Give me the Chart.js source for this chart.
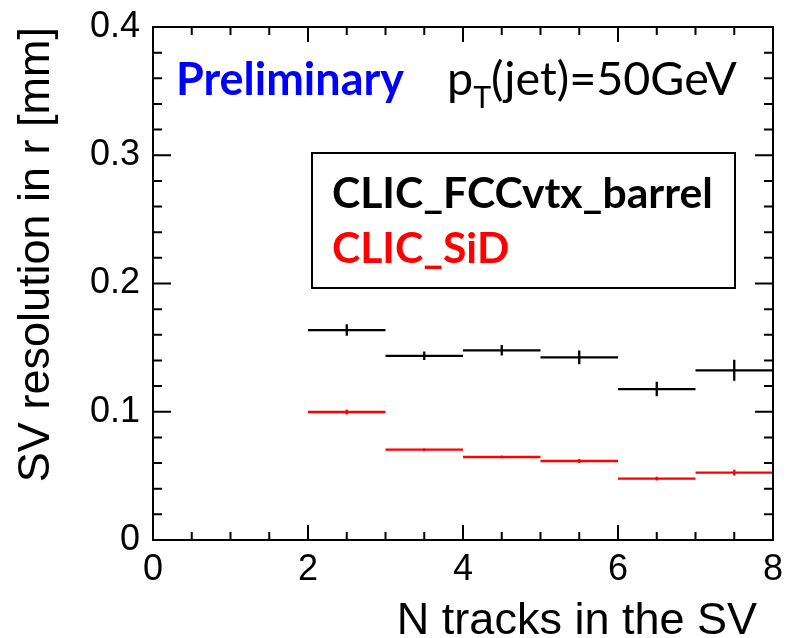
<!DOCTYPE html>
<html>
<head>
<meta charset="utf-8">
<script src="https://cdn.jsdelivr.net/npm/chart.js@4.4.1/dist/chart.umd.min.js"></script>
<style>
  html, body { margin: 0; padding: 0; background: #fff; }
  #wrap { width: 786px; height: 638px; }
</style>
</head>
<body>
<div id="wrap"><canvas id="svChart" width="786" height="638"></canvas></div>
<script>
// bin edges along "N tracks in the SV"
const binEdges = [2, 3, 4, 5, 6, 7, 8];

// SV resolution in r [mm] per bin, with errors
const fccRes = [0.1637, 0.1436, 0.1479, 0.1424, 0.1177, 0.1323];
const fccErr = [0.0045, 0.0033, 0.0041, 0.0053, 0.0056, 0.0082];
const sidRes = [0.0998, 0.0704, 0.0647, 0.0616, 0.0478, 0.0525];
const sidErr = [0.0020, 0.0012, 0.0012, 0.0015, 0.0015, 0.0023];

const xTicks = [0, 2, 4, 6, 8];
const yTicks = [0, 0.1, 0.2, 0.3, 0.4];

const AXIS_FONT = '"Liberation Sans", Arial, Helvetica, sans-serif';
const NOTE_FONT = 'Lato, "Open Sans", sans-serif';

// histogram style: horizontal bar over the bin + vertical error bar at the centre
function histPoints(vals, errs) {
    const pts = [];
    vals.forEach((v, i) => {
        const lo = binEdges[i], hi = binEdges[i + 1], mid = (lo + hi) / 2;
        pts.push({x: lo, y: v}, {x: hi, y: v}, {x: hi, y: null});
        pts.push({x: mid, y: v - errs[i]}, {x: mid, y: v + errs[i]}, {x: mid, y: null});
    });
    return pts;
}

// font size that makes text fill a given width
function fitSize(ctx, text, weight, target) {
    ctx.font = weight + ' 100px ' + NOTE_FONT;
    return 100 * target / ctx.measureText(text).width;
}

// ROOT-like frame, inner ticks, labels and legend box
const rootFrame = {
    id: 'rootFrame',
    afterDraw(chart) {
        const {ctx, chartArea: a, scales: {x, y}} = chart;
        ctx.save();
        ctx.strokeStyle = '#000';
        ctx.lineWidth = 2;
        ctx.strokeRect(a.left, a.top, a.right - a.left, a.bottom - a.top);

        ctx.beginPath();
        for (let k = 0; k <= 16; k++) {
            const px = x.getPixelForValue(k * 0.5);
            const len = k % 4 === 0 ? 15 : 8;
            ctx.moveTo(px, a.bottom); ctx.lineTo(px, a.bottom - len);
            ctx.moveTo(px, a.top); ctx.lineTo(px, a.top + len);
        }
        for (let k = 0; k <= 20; k++) {
            const py = y.getPixelForValue(k * 0.02);
            const len = k % 5 === 0 ? 18 : 9;
            ctx.moveTo(a.left, py); ctx.lineTo(a.left + len, py);
            ctx.moveTo(a.right, py); ctx.lineTo(a.right - len, py);
        }
        ctx.stroke();

        // x axis title, right aligned a little inside the axis end
        ctx.fillStyle = '#000';
        ctx.font = '45px ' + AXIS_FONT;
        ctx.textAlign = 'right';
        ctx.textBaseline = 'alphabetic';
        ctx.fillText('N tracks in the SV', 757, 634);
        ctx.textAlign = 'left';

        // Preliminary
        let s = fitSize(ctx, 'Preliminary', 'bold', 228);
        ctx.font = 'bold ' + s + 'px ' + NOTE_FONT;
        ctx.fillStyle = '#0000ff';
        ctx.fillText('Preliminary', 176, 95);

        // p_T(jet)=50GeV
        ctx.font = '100px ' + NOTE_FONT;
        const wp = ctx.measureText('p').width;
        const rest = '(jet)=50GeV';
        const wr = ctx.measureText(rest).width;
        ctx.font = '65px ' + NOTE_FONT;
        const wt = ctx.measureText('T').width;
        s = 100 * 290 / (wp + wt + wr);
        let tx = 447;
        ctx.fillStyle = '#000';
        ctx.font = s + 'px ' + NOTE_FONT;
        ctx.fillText('p', tx, 95);
        tx += wp * s / 100;
        ctx.font = (0.65 * s) + 'px ' + NOTE_FONT;
        ctx.fillText('T', tx, 95 + 0.28 * s);
        tx += wt * s / 100;
        ctx.font = s + 'px ' + NOTE_FONT;
        ctx.fillText(rest, tx, 95);

        // legend box
        ctx.lineWidth = 2;
        ctx.strokeRect(312, 153, 423, 135);
        const sets = chart.data.datasets;
        s = fitSize(ctx, sets[0].label, 'bold', 381);
        ctx.font = 'bold ' + s + 'px ' + NOTE_FONT;
        sets.forEach((d, i) => {
            ctx.fillStyle = d.borderColor;
            ctx.fillText(d.label, 332, 208 + i * 55);
        });
        ctx.restore();
    }
};

const ctx = document.getElementById('svChart').getContext('2d');
const svChart = new Chart(ctx, {
    type: 'scatter',
    data: {
        datasets: [{
            label: 'CLIC_FCCvtx_barrel',
            data: histPoints(fccRes, fccErr),
            showLine: true,
            spanGaps: false,
            borderColor: '#000000',
            borderWidth: 2.3,
            pointRadius: 0,
            borderCapStyle: 'butt'
        }, {
            label: 'CLIC_SiD',
            data: histPoints(sidRes, sidErr),
            showLine: true,
            spanGaps: false,
            borderColor: '#ff0000',
            borderWidth: 2.3,
            pointRadius: 0,
            borderCapStyle: 'butt'
        }]
    },
    options: {
        responsive: false,
        animation: false,
        layout: { padding: { top: 27, right: 13, left: 0, bottom: 0 } },
        plugins: {
            legend: { display: false },
            tooltip: { enabled: false }
        },
        scales: {
            x: {
                type: 'linear',
                min: 0,
                max: 8,
                afterFit(scale) {
                    scale.height = 98;
                    scale.paddingLeft = 0;
                    scale.paddingRight = 0;
                },
                afterBuildTicks(scale) { scale.ticks = xTicks.map(v => ({value: v})); },
                grid: { display: false, drawTicks: false },
                border: { display: false },
                ticks: {
                    color: '#000',
                    padding: 8,
                    maxRotation: 0,
                    font: { family: AXIS_FONT, size: 36 }
                }
            },
            y: {
                type: 'linear',
                min: 0,
                max: 0.4,
                afterFit(scale) {
                    scale.width = 153;
                    scale.paddingTop = 0;
                    scale.paddingBottom = 0;
                },
                afterBuildTicks(scale) { scale.ticks = yTicks.map(v => ({value: v})); },
                grid: { display: false, drawTicks: false },
                border: { display: false },
                ticks: {
                    color: '#000',
                    padding: 13,
                    font: { family: AXIS_FONT, size: 36 },
                    callback: v => String(Math.round(v * 10) / 10)
                },
                title: {
                    display: true,
                    text: 'SV resolution in r [mm]',
                    align: 'end',
                    color: '#000',
                    padding: { top: 10, bottom: 0 },
                    font: { family: AXIS_FONT, size: 45, lineHeight: 1.2 }
                }
            }
        }
    },
    plugins: [rootFrame]
});
</script>
</body>
</html>
